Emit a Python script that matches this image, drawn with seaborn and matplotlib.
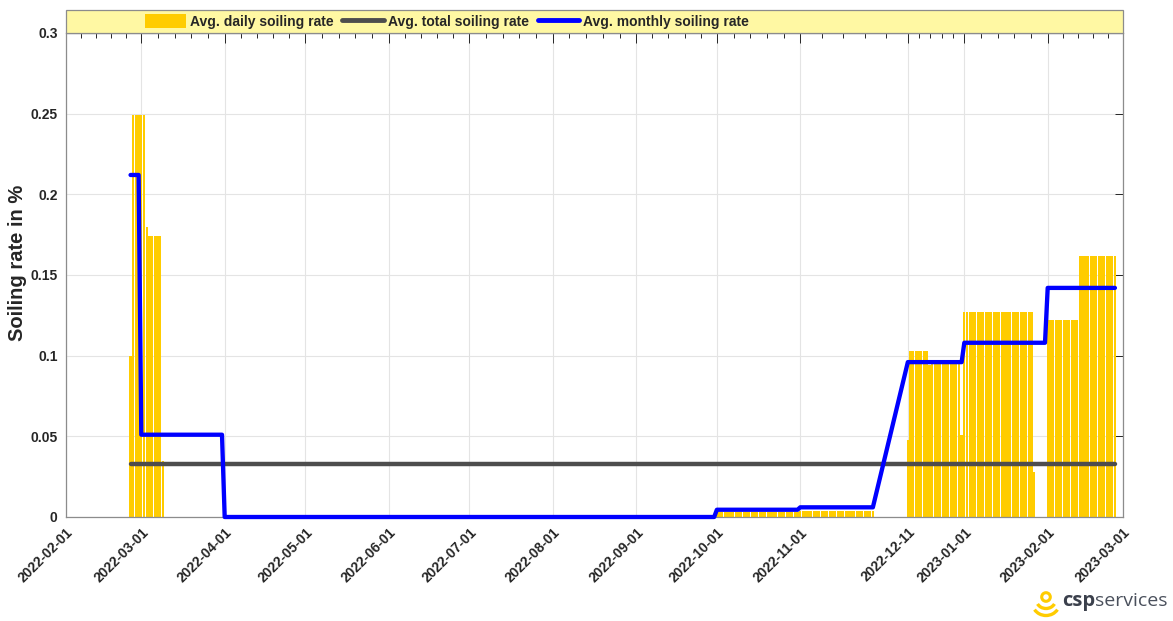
import numpy as np
import pandas as pd
import matplotlib
matplotlib.use("Agg")
import matplotlib.pyplot as plt
import matplotlib.dates as mdates
from matplotlib.patches import Rectangle, Circle, Arc, Patch
from matplotlib.lines import Line2D
import seaborn as sns

# Average daily soiling rate [%], stored as runs of days sharing one value
daily_first = ["2022-02-25", "2022-02-26", "2022-03-03", "2022-03-04", "2022-03-09",
               "2022-10-01", "2022-11-01",
               "2022-12-11", "2022-12-12", "2022-12-19", "2022-12-20", "2022-12-31",
               "2023-01-01", "2023-01-27", "2023-02-01", "2023-02-13"]
daily_last = ["2022-02-25", "2022-03-02", "2022-03-03", "2022-03-08", "2022-03-09",
              "2022-10-31", "2022-11-28",
              "2022-12-11", "2022-12-18", "2022-12-19", "2022-12-30", "2022-12-31",
              "2023-01-26", "2023-01-27", "2023-02-12", "2023-02-26"]
daily_rate = [0.100, 0.249, 0.180, 0.174, 0.035,
              0.003, 0.004,
              0.048, 0.103, 0.094, 0.097, 0.051,
              0.127, 0.028, 0.122, 0.162]

# Average monthly soiling rate [%] over the days with measurements
monthly_first = ["2022-02-25", "2022-03-01", "2022-04-01", "2022-10-01", "2022-11-01",
                 "2022-12-11", "2023-01-01", "2023-02-01"]
monthly_last = ["2022-02-28", "2022-03-31", "2022-09-30", "2022-10-31", "2022-11-28",
                "2022-12-31", "2023-01-31", "2023-02-26"]
monthly_rate = [0.212, 0.051, 0.0, 0.0045, 0.0060, 0.096, 0.108, 0.142]

# Average total soiling rate [%] over the whole campaign
total_rate = 0.033
total_span = ["2022-02-25", "2023-02-26"]

tick_dates = ["2022-02-01", "2022-03-01", "2022-04-01", "2022-05-01", "2022-06-01",
              "2022-07-01", "2022-08-01", "2022-09-01", "2022-10-01", "2022-11-01",
              "2022-12-11", "2023-01-01", "2023-02-01", "2023-03-01"]
y_ticks = [0.0, 0.05, 0.10, 0.15, 0.20, 0.25, 0.30]
y_tick_labels = ["0", "0.05", "0.1", "0.15", "0.2", "0.25", "0.3"]
legend_labels = ["Avg. daily soiling rate", "Avg. total soiling rate",
                 "Avg. monthly soiling rate"]


def expand_runs(first, last, rate):
    parts = []
    for f, l, r in zip(first, last, rate):
        days = pd.date_range(f, l, freq="D")
        parts.append(pd.DataFrame({"date": days, "rate": r}))
    return pd.concat(parts, ignore_index=True)


daily = expand_runs(daily_first, daily_last, daily_rate)
monthly = expand_runs(monthly_first, monthly_last, monthly_rate)
total = pd.DataFrame({"date": pd.to_datetime(total_span),
                      "rate": [total_rate, total_rate]})

sns.set_style("white")
plt.rcParams["font.family"] = ["Liberation Sans", "DejaVu Sans"]

W, H = 1173, 621
fig = plt.figure(figsize=(W / 100, H / 100), dpi=100)
ax_l, ax_r, ax_t, ax_b = 66, 1123, 33, 517
ax = fig.add_axes([ax_l / W, 1 - ax_b / H, (ax_r - ax_l) / W, (ax_b - ax_t) / H])

YELLOW = "#FFCC00"
GREY = "#4d4d4d"
BLUE = "#0000FF"
TXT = "#262626"

ax.bar(daily["date"], daily["rate"], width=0.88, color=YELLOW, linewidth=0, zorder=2)
sns.lineplot(data=total, x="date", y="rate", ax=ax, color=GREY, linewidth=3.2,
             zorder=3, clip_on=False)
sns.lineplot(data=monthly, x="date", y="rate", ax=ax, color=BLUE, linewidth=3.1,
             zorder=4, clip_on=False)

# axes limits and ticks
tick_pos = mdates.date2num(pd.to_datetime(tick_dates))
ax.set_xlim(tick_pos[0], tick_pos[-1])
ax.set_ylim(0, 0.3)
ax.set_xticks(tick_pos)
minor = np.concatenate([np.linspace(a, b, 6)[1:-1] for a, b in zip(tick_pos[:-1], tick_pos[1:])])
ax.set_xticks(minor, minor=True)
ax.set_xticklabels(tick_dates, rotation=45, ha="right", va="top",
                   rotation_mode="anchor", fontsize=10, fontweight="bold", color=TXT)
ax.set_yticks(y_ticks)
ax.set_yticklabels(y_tick_labels, fontsize=10, fontweight="bold", color=TXT)
ax.tick_params(which="both", direction="in", top=True, right=True, color=TXT, width=0.7)
ax.tick_params(axis="x", which="major", length=7, pad=6)
ax.tick_params(axis="x", which="minor", length=3.5)
ax.tick_params(axis="y", which="major", length=6, pad=6)

ax.grid(True, which="major", color="#e4e4e4", linewidth=0.8)
ax.set_axisbelow(True)
for sp in ax.spines.values():
    sp.set_color("#8c8c8c")
    sp.set_linewidth(0.9)

ax.set_xlabel("")
ax.set_ylabel("Soiling rate in %", fontsize=14.5, fontweight="bold", color=TXT)
ax.yaxis.set_label_coords((27 - ax_l) / (ax_r - ax_l), (ax_b - 263) / (ax_b - ax_t))

# legend band above the axes
band = Rectangle((ax_l / W, 1 - ax_t / H), (ax_r - ax_l) / W, 23 / H,
                 transform=fig.transFigure, facecolor="#FFF8A3", edgecolor="#8c8c8c",
                 linewidth=0.9, zorder=0)
fig.patches.append(band)
handles = [Patch(facecolor=YELLOW, edgecolor="none"),
           Line2D([], [], color=GREY, linewidth=3.5),
           Line2D([], [], color=BLUE, linewidth=3.5)]
fig.legend(handles, legend_labels, loc="center", bbox_to_anchor=(447 / W, 1 - 21.5 / H),
           ncol=3, frameon=False, prop=dict(weight="bold", size=10),
           handlelength=3.0, handleheight=1.1, columnspacing=0.6, handletextpad=0.3,
           labelcolor=TXT)

# company logo, bottom right
icon = fig.add_axes([1030 / W, 1 - 619 / H, 30 / W, 31 / H])
icon.set_xlim(0, 30)
icon.set_ylim(0, 31)
icon.set_aspect("equal")
icon.axis("off")
icon.add_patch(Circle((16, 22), 4.3, facecolor="white", edgecolor=YELLOW, linewidth=2.2))
icon.add_patch(Arc((16, 19), 19, 17, theta1=205, theta2=335, color=YELLOW, linewidth=2.4))
icon.add_patch(Arc((16, 16), 27, 25, theta1=210, theta2=330, color=YELLOW, linewidth=2.4))

t1 = fig.text(1062 / W, 1 - 606 / H, "csp", fontsize=14.5, fontweight="bold",
              color="#3b404c", family="Open Sans", va="baseline", ha="left")
fig.canvas.draw()
bb = t1.get_window_extent(renderer=fig.canvas.get_renderer())
fig.text(bb.x1 / W, 1 - 606 / H, "services", fontsize=14, fontweight="normal",
         color="#4a505c", family="Open Sans", va="baseline", ha="left")

fig.savefig("out.png", dpi=100, facecolor="white")
